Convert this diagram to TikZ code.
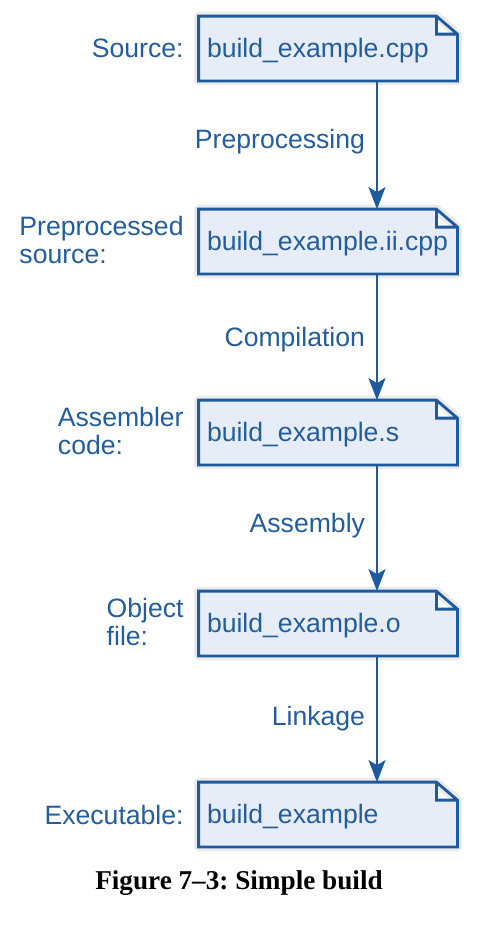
\documentclass[tikz,border=0pt]{standalone}
\usepackage{fontspec}
\setmainfont{Liberation Sans}
\newfontfamily\captionfont{Liberation Serif}
\usetikzlibrary{arrows.meta,backgrounds}
\frenchspacing

\definecolor{fileline}{HTML}{1D5A9E}
\definecolor{filefill}{HTML}{E7EDF8}
\definecolor{labeltext}{HTML}{235D9B}

\tikzset{
  file/.style={shape=rectangle, minimum width=129pt, minimum height=32pt,
    text width=121pt, text height=10pt, text depth=1.5pt,
    inner xsep=4pt, inner ysep=0pt, align=left,
    text=labeltext, font=\fontsize{13.3}{13.8}\selectfont},
  filebox/.style={draw=fileline, fill=filefill, line width=1.4pt, line join=miter},
  filehalo/.style={draw=black, draw opacity=0.08, line width=4.5pt, line join=round},
  what/.style={anchor=east, align=left, inner sep=0pt, text=labeltext,
    font=\fontsize{13.3}{13.6}\selectfont},
  flow/.style={draw=fileline, line width=1pt,
    -{Stealth[length=11pt,width=8.5pt,inset=2.5pt]}},
  stage/.style={left=5.5pt, inner sep=0pt, text=labeltext,
    font=\fontsize{13.3}{13.8}\selectfont},
  caption/.style={font=\captionfont\fontsize{13.6}{16}\selectfont\bfseries}
}

\begin{document}
\begin{tikzpicture}[x=0.5pt,y=-0.5pt]
   \useasboundingbox (0,0) rectangle (485,928);

   \path (328,48.5) node[file] (F0) {build\_example.cpp};
   \path (184,48.5) node[what] (F0n) {Source:};

   \path (328,241.5) node[file] (F1) {build\_example.ii.cpp};
   \path (184,240) node[what] (F1n) {Preprocessed\\source:};

   \path (328,432.5) node[file] (F2) {build\_example.s};
   \path (184,431) node[what] (F2n) {Assembler\\code:};

   \path (328,623.5) node[file] (F3) {build\_example.o};
   \path (184,622) node[what] (F3n) {Object\\file:};

   \path (328,814.5) node[file] (F4) {build\_example};
   \path (184,814.5) node[what] (F4n) {Executable:};

   % dog-eared file outlines
   \begin{scope}[on background layer]
     \foreach \f in {F0,F1,F2,F3,F4} {
       \draw[filehalo] (\f.south west) -- (\f.north west)
         -- ([xshift=-10.5pt]\f.north east) -- ([yshift=-9pt]\f.north east)
         -- (\f.south east) -- cycle;
       \draw[filebox] (\f.south west) -- (\f.north west)
         -- ([xshift=-10.5pt]\f.north east) -- ([yshift=-9pt]\f.north east)
         -- (\f.south east) -- cycle
         ([xshift=-10.5pt]\f.north east) |- ([yshift=-9pt]\f.north east);
     }
   \end{scope}

   \draw[flow] ([xshift=24.5pt]F0.south) -- node[stage,yshift=1.5pt] {Preprocessing} ([xshift=24.5pt]F1.north);
   \draw[flow] ([xshift=24.5pt]F1.south) -- node[stage,yshift=-1.5pt] {Compilation} ([xshift=24.5pt]F2.north);
   \draw[flow] ([xshift=24.5pt]F2.south) -- node[stage,yshift=1pt] {Assembly} ([xshift=24.5pt]F3.north);
   \draw[flow] ([xshift=24.5pt]F3.south) -- node[stage] {Linkage} ([xshift=24.5pt]F4.north);

   \path (239,883) node[caption] (cap) {Figure 7–3: Simple build};
\end{tikzpicture}
\end{document}
